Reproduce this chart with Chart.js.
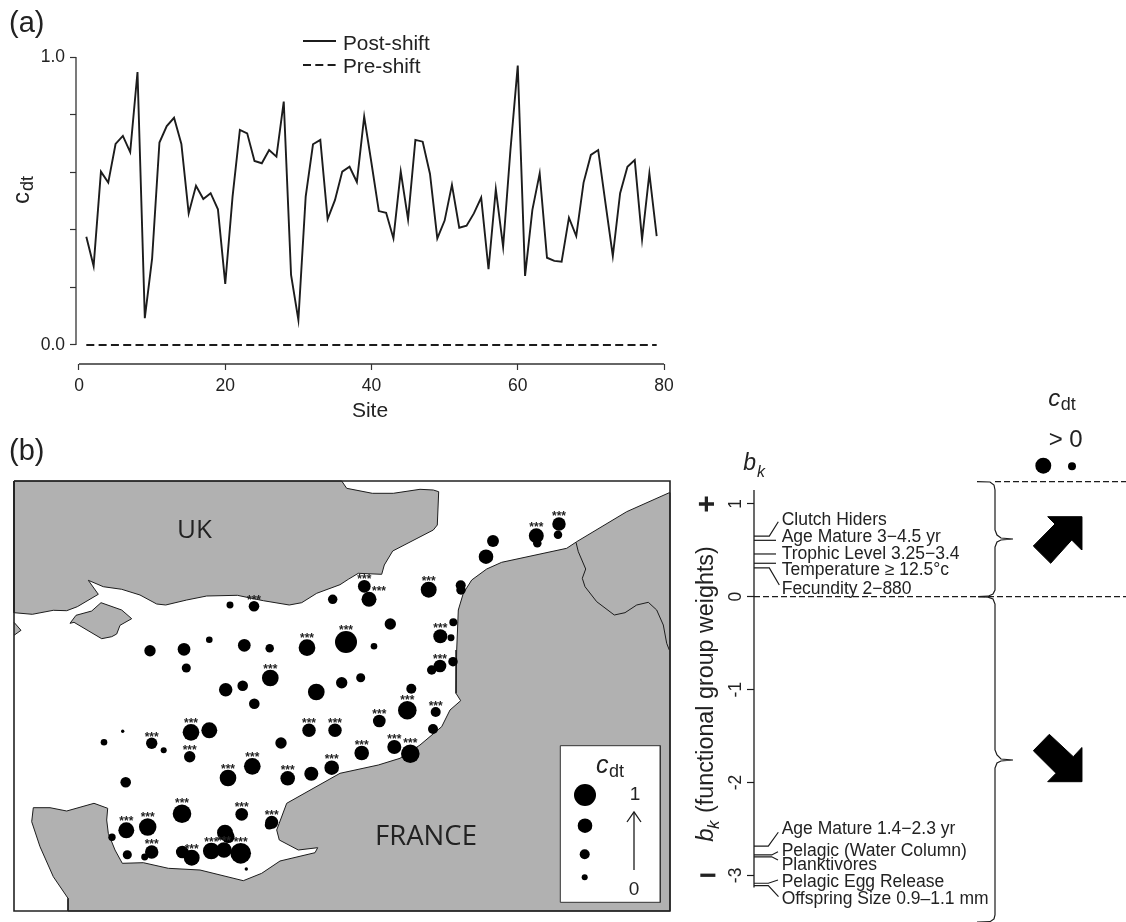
<!DOCTYPE html>
<html>
<head>
<meta charset="utf-8">
<title>Post-shift community scores and functional group weights</title>
<script src="https://cdn.jsdelivr.net/npm/chart.js"></script>
<style>
    html, body { margin: 0; padding: 0; background: #fff; }
    canvas { position: absolute; display: block; }
</style>
</head>
<body>
<canvas id="siteChart" width="1126" height="472" style="left:0;top:0"></canvas>
<canvas id="mapChart" width="664" height="438" style="left:10px;top:477px"></canvas>
<canvas id="bkChart" width="446" height="542" style="left:680px;top:380px"></canvas>
<script>
// (a) site scores
const sites = [1,2,3,4,5,6,7,8,9,10,11,12,13,14,15,16,17,18,19,20,21,22,23,24,25,26,27,28,29,30,31,32,33,34,35,36,37,38,39,40,
    41,42,43,44,45,46,47,48,49,50,51,52,53,54,55,56,57,58,59,60,61,62,63,64,65,66,67,68,69,70,71,72,73,74,75,76,77,78,79];
const postShift = [.376,.274,.602,.564,.698,.726,.670,.948,.093,.301,.703,.760,.789,.698,.457,.553,.507,.527,.471,.212,
    .515,.747,.735,.639,.631,.677,.654,.845,.243,.087,.515,.697,.712,.437,.503,.602,.619,.566,.793,.631,
    .465,.459,.370,.602,.436,.712,.706,.594,.370,.432,.556,.407,.414,.457,.512,.263,.541,.341,.677,.970,
    .240,.469,.596,.303,.292,.289,.442,.378,.564,.660,.677,.492,.309,.527,.619,.642,.367,.596,.378];
const preShift = [0,0,0,0,0,0,0,0,0,0,0,0,0,0,0,0,0,0,0,0,0,0,0,0,0,0,0,0,0,0,0,0,0,0,0,0,0,0,0,0,
    0,0,0,0,0,0,0,0,0,0,0,0,0,0,0,0,0,0,0,0,0,0,0,0,0,0,0,0,0,0,0,0,0,0,0,0,0,0,0];
const siteTicks = [0,20,40,60,80];
const cdtTicks = [0,0.2,0.4,0.6,0.8,1];

// (b) map outlines, in map units
const ukCoast = [[14,612.7],[32.3,614.3],[53.3,610.3],[66.7,610.7],[77.3,606.7],[98.3,594.3],[88.3,580.3],[103.3,586.7],[121.7,589.3],[140,595],
    [156.7,604],[165.7,605],[186.7,600],[206.7,596],[237.3,595.3],[263.3,600.7],[289.3,605],[301.7,602.7],[316.7,593.3],[340,584.7],
    [348.3,579.3],[358.3,573.3],[381.7,574.3],[384.3,565],[392.7,551],[433.3,530],[437.3,525],[438.7,491.7],[433.3,490],[420,489.3],
    [393.3,493.3],[372.3,493.3],[346.7,488.3],[341.7,481],[14,481],[14,612.7]];
const wightCoast = [[101,602.7],[121.7,610],[131.7,618.7],[120,625.3],[116.7,634],[111.7,636.7],[101.7,638.7],[74,622.3],[70,623.3],[76,615.3],[91.7,611],[101,602.7]];
const leftCoast = [[14,622.3],[21,630.3],[14,635.3]];
const franceCoast = [[669.3,492.7],[626.7,511.7],[576.7,541.7],[566.7,548.3],[501.7,562.3],[486.7,569],[471.7,580],[463.3,593.3],[458.3,610],[456.7,650],
    [456,693.3],[460.7,700.7],[450,710],[441.7,726.7],[420,745],[400,758.3],[378.3,765],[340,773.3],[286.7,803.3],[276.7,830],
    [279.3,840],[298.3,850],[317.7,847.7],[315,852.7],[280,861],[261.7,873.3],[243.3,880.7],[200,870],[168.3,868.3],[143.3,862.7],
    [122.3,863.3],[115,850],[108.3,833.3],[106.7,820],[107.7,808.3],[94,803.3],[66.7,811],[50,807.7],[33.3,807.7],[31.7,821.7],
    [40,846.7],[53.3,876.7],[68,898.3],[68,911],[670,911],[670,492.7],[669.3,492.7]];
const border = [[576,542.3],[578.3,551.7],[585.7,569],[582.3,578.3],[585,586.7],[596.7,601.7],[614.3,615],[625,612.7],[636.7,605],[648.3,602.3],[656.7,610],[663.3,625],[666.7,643.3],[669.3,650]];
const mapFrame = [[14,481],[670,481],[670,911],[14,911],[14,481]];
const keyFrame = [[560.3,745.7],[660.3,745.7],[660.3,902.3],[560.3,902.3],[560.3,745.7]];
const keyArrow = [[634,870],[634,812]];
const keyArrowHead = [[627,822],[634,812],[641,822]];

// (b) stations: position, cdt and significance (1 = ***, 2 = *** set off to the right)
const stationX = [230,254,332.7,150,184,209.3,244.3,269.7,307,346,186.3,270.3,225.7,242.7,316.3,341.7,254.3,364.3,369,428.7,
    460.7,461,486,493,536.3,537.3,559,558,390.3,374,440.3,451,453.3,440,431.7,453,360.7,411.3,407.3,435.7,
    379.3,433,361.7,394.3,410.3,331.7,309,335,281,252.3,228,287.7,311.3,209.3,191,189.7,163.7,151.7,122.7,104,
    125.7,182,241.7,126.3,147.7,112,127.3,151.7,144.7,182.3,191.7,211.3,224,225,228.3,240.7,271.7,269.3,246.3];
const stationY = [605,606.3,599.3,650.7,649.3,639.7,645.3,648.3,647.7,642,668,678,689.7,685.7,692,682.7,703.7,586.3,599.3,589.7,
    585.3,590,556.7,541,535.7,543.3,524,534.7,624,646.3,636.3,637.7,622.3,666,670,661.7,677.7,688.7,710.3,712,
    721,729,753,747,753.7,767.7,730.3,730.3,743,766.3,778,778.3,773.7,730.3,732.3,756.7,750.3,743.3,731.3,742.3,
    782.3,813.7,814.3,830.3,827,837.3,854.7,852,857,852,857.7,851,850,832.7,836.7,853.3,822.3,825,869];
const stationC = [.21,.40,.34,.44,.51,.19,.51,.29,.72,1,.32,.72,.55,.40,.72,.44,.40,.51,.63,.68,
    .37,.34,.61,.47,.63,.29,.55,.29,.44,.19,.58,.21,.26,.51,.34,.34,.32,.37,.82,.37,
    .51,.37,.61,.58,.82,.61,.55,.55,.44,.72,.72,.61,.58,.68,.72,.44,.16,.44,.02,.19,
    .40,.82,.51,.68,.76,.23,.32,.55,.21,.51,.68,.72,.65,.68,.51,.93,.53,.32,.02];
const stationStars = [0,1,0,0,0,0,0,0,1,1,0,1,0,0,0,0,0,1,2,1,
    0,0,0,0,1,0,1,0,0,0,1,0,0,1,0,0,0,0,1,1,
    1,0,1,1,1,1,1,1,0,1,1,1,0,0,1,1,0,1,0,0,
    0,1,1,1,1,0,0,1,0,0,1,1,1,0,0,1,1,0,0];
const keyC = [1,.61,.37,.16];
const keyX = [585,585,584.7,584.7];
const keyY = [795,825.7,854.3,877.3];

// (b) functional group weights
const bkTicks = [-3,-2,-1,0,1];
const bkNames = ['Clutch Hiders','Age Mature 3\u22124.5 yr','Trophic Level 3.25\u22123.4','Temperature \u2265 12.5\u00b0c','Fecundity 2\u2212880',
    'Age Mature 1.4\u22122.3 yr','Pelagic (Water Column)','Planktivores','Pelagic Egg Release','Offspring Size 0.9\u20131.1 mm'];
const bkWeights = [.653,.607,.46,.36,.31,-2.685,-2.78,-2.8,-3.085,-3.11];
const leaderElbowX = [769.3,776,776,776,769.3,768.3,771.7,771.7,768.3,768.3];
const leaderEndX = [778.3,776,776,776,779.3,778.3,778,778,778,778.5];
const leaderEndBk = [.807,.607,.46,.36,.126,-2.536,-2.745,-2.834,-3.05,-3.229];
const labelY = [519,536,552.7,569.3,588.3,827.7,850,864,880.7,897.7];
const braceUpper = [[977,481.7],[990,482],[994,485],[995,490],[995,530],[997,535],[1001,538],[1013,539],[1001,540],[997,542],[995,547],[995,590],[993,594],[988,596.2],[978,596.7]];
const braceLower = [[978,596.7],[988,597.2],[993,599],[995,604],[995,750],[997,755],[1001,759],[1013,760],[1001,761],[997,763],[995,768],[995,915],[994,919],[990,921.7],[977,922]];
const arrowUp = [[1081.7,516.7],[1081.7,550],[1071.7,540],[1050.7,563.3],[1033.3,546],[1055,524],[1047.7,516.7],[1081.7,516.7]];
const arrowDown = [[1049.3,734.3],[1073.3,756.7],[1081.7,747.7],[1081.7,781.7],[1047.7,781.7],[1056,773.3],[1033.3,750.7],[1049.3,734.3]];
const cdtKeyX = [1043.3,1072];
const cdtKeyY = [465.7,466.3];
const cdtKeyC = [.68,.26];

const INK = '#1c1c1c';
const SANS = '"Liberation Sans", Arial, sans-serif';

Chart.defaults.animation = false;
Chart.defaults.font.family = SANS;
Chart.defaults.color = '#222';

const toPoints = pairs => pairs.map(p => ({ x: p[0], y: p[1] }));
const bubbleSize = c => 1.5 + 9.5 * c;

// plain line or closed shape dataset
function lineSet(points, opts) {
    return Object.assign({
        type: 'scatter', data: points, showLine: true, pointRadius: 0, tension: 0,
        borderColor: INK, borderWidth: 1, fill: false, clip: false
    }, opts);
}

function putText(ctx, str, x, y, font, align, rot) {
    ctx.save();
    ctx.translate(x, y);
    if (rot) ctx.rotate(rot);
    ctx.font = font;
    ctx.fillStyle = '#222';
    ctx.textAlign = align || 'left';
    ctx.textBaseline = 'alphabetic';
    ctx.fillText(str, 0, 0);
    ctx.restore();
}

const noInteraction = { responsive: false, events: [], plugins: { legend: { display: false }, tooltip: { enabled: false } } };

// ---------- (a) ----------
new Chart(document.getElementById('siteChart'), {
    type: 'scatter',
    data: {
        datasets: [
            lineSet(sites.map((s, i) => ({ x: s, y: postShift[i] })), { label: 'Post-shift', borderWidth: 1.9, borderJoinStyle: 'miter' }),
            lineSet(sites.map((s, i) => ({ x: s, y: preShift[i] })), { label: 'Pre-shift', borderWidth: 2, borderDash: [8, 4.3] }),
            lineSet([{ x: -0.41, y: 0 }, { x: -0.41, y: 1 }], { label: 'y axis', borderColor: '#333', borderWidth: 1.3 }),
            lineSet([{ x: 0, y: -0.066 }, { x: 80, y: -0.066 }], { label: 'x axis', borderColor: '#333', borderWidth: 1.3 })
        ]
    },
    options: Object.assign({}, noInteraction, {
        layout: { autoPadding: false, padding: { top: 57, right: 462, left: 0, bottom: 42 } },
        scales: {
            x: {
                type: 'linear', min: -0.41, max: 80,
                afterBuildTicks: s => { s.ticks = siteTicks.map(v => ({ value: v })); },
                afterFit: s => { s.height = 66; },
                grid: { drawOnChartArea: false, tickLength: 6, tickColor: '#333', tickWidth: 1.2 },
                border: { display: false },
                ticks: { font: { size: 17.5 }, padding: 6, maxRotation: 0, autoSkip: false, color: '#222' },
                title: { display: true, text: 'Site', font: { size: 21 }, color: '#222', padding: { top: 0, bottom: 6 } }
            },
            y: {
                min: -0.066, max: 1,
                afterBuildTicks: s => { s.ticks = cdtTicks.map(v => ({ value: v })); },
                afterFit: s => { s.width = 76; },
                grid: { drawOnChartArea: false, tickLength: 6, tickColor: '#333', tickWidth: 1.2 },
                border: { display: false },
                ticks: {
                    font: { size: 17.5 }, padding: 5, autoSkip: false, color: '#222',
                    callback: v => (v === 0 ? '0.0' : v === 1 ? '1.0' : '')
                }
            }
        }
    }),
    plugins: [{
        id: 'siteNotes',
        afterDraw(chart) {
            const ctx = chart.ctx;
            putText(ctx, '(a)', 9, 32, '29px ' + SANS);
            putText(ctx, '(b)', 9, 460, '29px ' + SANS);
            // legend
            ctx.save();
            ctx.strokeStyle = INK;
            ctx.lineWidth = 1.9;
            ctx.beginPath(); ctx.moveTo(303, 41); ctx.lineTo(336, 41); ctx.stroke();
            ctx.setLineDash([8, 4.3]);
            ctx.beginPath(); ctx.moveTo(303, 65); ctx.lineTo(336, 65); ctx.stroke();
            ctx.restore();
            putText(ctx, 'Post-shift', 343, 50, '20.8px ' + SANS);
            putText(ctx, 'Pre-shift', 343, 73, '20.8px ' + SANS);
            // rotated axis title
            putText(ctx, 'c', 29, 204, '24px ' + SANS, 'left', -Math.PI / 2);
            putText(ctx, 'dt', 33, 191, '18px ' + SANS, 'left', -Math.PI / 2);
        }
    }]
});

// ---------- (b) map ----------
new Chart(document.getElementById('mapChart'), {
    type: 'scatter',
    data: {
        datasets: [
            lineSet(toPoints(ukCoast), { backgroundColor: '#b1b1b1', fill: 'shape', order: 9 }),
            lineSet(toPoints(wightCoast), { backgroundColor: '#b1b1b1', fill: 'shape', order: 9 }),
            lineSet(toPoints(leftCoast), { backgroundColor: '#b1b1b1', fill: 'shape', order: 9 }),
            lineSet(toPoints(franceCoast), { backgroundColor: '#b1b1b1', fill: 'shape', order: 9 }),
            lineSet(toPoints(border), { order: 8 }),
            lineSet(toPoints(mapFrame), { borderWidth: 1.6, borderColor: '#222', order: 1 }),
            lineSet(toPoints(keyFrame), { backgroundColor: '#fff', fill: 'shape', borderColor: '#333', order: 7 }),
            lineSet(toPoints(keyArrow), { order: 3, borderWidth: 1.3 }),
            lineSet(toPoints(keyArrowHead), { order: 3, borderWidth: 1.3 }),
            {
                type: 'bubble', order: 2, backgroundColor: '#000', borderWidth: 0, clip: false,
                data: stationX.map((x, i) => ({ x: x, y: stationY[i], r: bubbleSize(stationC[i]) }))
            },
            {
                type: 'bubble', order: 2, backgroundColor: '#000', borderWidth: 0, clip: false,
                data: keyX.map((x, i) => ({ x: x, y: keyY[i], r: bubbleSize(keyC[i]) }))
            }
        ]
    },
    options: Object.assign({}, noInteraction, {
        layout: { autoPadding: false, padding: 4 },
        scales: {
            x: { type: 'linear', min: 14, max: 670, display: false },
            y: { type: 'linear', min: 481, max: 911, reverse: true, display: false }
        }
    }),
    plugins: [{
        id: 'mapNotes',
        afterDraw(chart) {
            const ctx = chart.ctx;
            const px = v => chart.scales.x.getPixelForValue(v);
            const py = v => chart.scales.y.getPixelForValue(v);
            stationX.forEach((x, i) => {
                if (!stationStars[i]) return;
                const r = bubbleSize(stationC[i]);
                const off = stationStars[i] === 2;
                const sx = off ? px(x) + 10 : px(x);
                const sy = off ? py(stationY[i]) - 11 + 7 : py(stationY[i]) - r + 3;
                putText(ctx, '***', sx, sy, 'bold 12px ' + SANS, 'center');
            });
            putText(ctx, 'UK', px(194.5), py(538), '26px "Open Sans"', 'center');
            putText(ctx, 'FRANCE', px(426), py(845), '27.5px "Open Sans"', 'center');
            putText(ctx, 'c', px(596), py(773.3), 'italic 25px ' + SANS);
            putText(ctx, 'dt', px(609), py(776.7), '18px ' + SANS);
            putText(ctx, '1', px(635), py(800), '19px ' + SANS, 'center');
            putText(ctx, '0', px(634), py(895), '19px ' + SANS, 'center');
        }
    }]
});

// ---------- (b) weights ----------
const leaderSets = bkWeights.map((w, i) => lineSet(
    [{ x: 754, y: w }, { x: leaderElbowX[i], y: w }, { x: leaderEndX[i], y: leaderEndBk[i] }],
    { label: bkNames[i], borderWidth: 1.2 }
));

new Chart(document.getElementById('bkChart'), {
    type: 'scatter',
    data: {
        datasets: [
            lineSet([{ x: 754, y: 1.15 }, { x: 754, y: -3.13 }], { borderWidth: 1.3 }),
            lineSet([{ x: 754, y: 0 }, { x: 1126, y: 0 }], { borderDash: [6, 3], borderWidth: 1.2 }),
            lineSet([{ x: 995, y: 481.7 }, { x: 1126, y: 481.7 }], { borderDash: [6, 3], borderWidth: 1.2, yAxisID: 'yp' }),
            lineSet(toPoints(braceUpper), { yAxisID: 'yp', borderWidth: 1.2 }),
            lineSet(toPoints(braceLower), { yAxisID: 'yp', borderWidth: 1.2 }),
            lineSet(toPoints(arrowUp), { yAxisID: 'yp', backgroundColor: '#000', borderColor: '#000', fill: 'shape' }),
            lineSet(toPoints(arrowDown), { yAxisID: 'yp', backgroundColor: '#000', borderColor: '#000', fill: 'shape' }),
            {
                type: 'bubble', yAxisID: 'yp', backgroundColor: '#000', borderWidth: 0, clip: false,
                data: cdtKeyX.map((x, i) => ({ x: x, y: cdtKeyY[i], r: bubbleSize(cdtKeyC[i]) }))
            }
        ].concat(leaderSets)
    },
    options: Object.assign({}, noInteraction, {
        layout: { autoPadding: false },
        scales: {
            x: { type: 'linear', min: 754, max: 1126, display: false },
            y: {
                type: 'linear', min: -3.502, max: 2.333, position: 'left',
                afterBuildTicks: s => { s.ticks = bkTicks.map(v => ({ value: v })); },
                afterFit: s => { s.width = 74; s.paddingTop = 0; s.paddingBottom = 0; },
                grid: { drawOnChartArea: false, tickLength: 7, tickColor: INK, tickWidth: 1.2 },
                border: { display: false },
                ticks: { font: { size: 17.5 }, padding: 3, minRotation: 90, maxRotation: 90, crossAlign: 'center', autoSkip: false, color: '#222' }
            },
            yp: { type: 'linear', axis: 'y', min: 380, max: 922, reverse: true, display: false }
        }
    }),
    plugins: [{
        id: 'bkNotes',
        afterDraw(chart) {
            const ctx = chart.ctx;
            const px = v => chart.scales.x.getPixelForValue(v);
            const py = v => chart.scales.yp.getPixelForValue(v);
            const up = -Math.PI / 2;
            bkNames.forEach((name, i) => {
                putText(ctx, name, px(781.7), py(labelY[i] + 6), '17.5px ' + SANS);
            });
            // top labels
            putText(ctx, 'c', px(1048.3), py(406), 'italic 24px ' + SANS);
            putText(ctx, 'dt', px(1060.7), py(410), '18px ' + SANS);
            putText(ctx, '> 0', px(1065.7), py(447), '24px ' + SANS, 'center');
            putText(ctx, 'b', px(743.3), py(470), 'italic 23px ' + SANS);
            putText(ctx, 'k', px(757), py(476.7), 'italic 16px ' + SANS);
            // rotated axis title
            putText(ctx, 'b', px(712.5), py(841.7), 'italic 24px ' + SANS, 'left', up);
            putText(ctx, 'k', px(719), py(829), 'italic 17px ' + SANS, 'left', up);
            putText(ctx, '(functional group weights)', px(712.5), py(813), '23.3px ' + SANS, 'left', up);
            putText(ctx, '+', px(716), py(504), 'bold 30px ' + SANS, 'center', up);
            putText(ctx, '\u2212', px(708), py(885), 'bold 30px ' + SANS, 'center', 0);
        }
    }]
});
</script>
</body>
</html>
